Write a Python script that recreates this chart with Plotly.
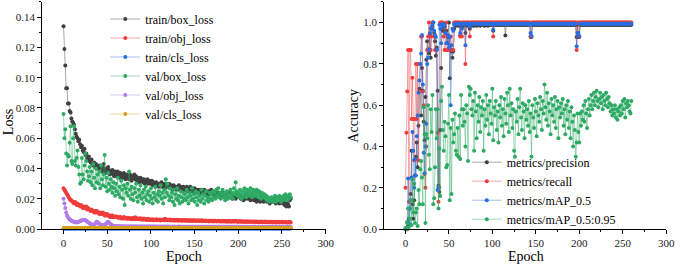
import plotly.graph_objects as go

epochs = list(range(261))

train_box = [
0.134,0.119,0.108,0.093,0.093,0.083,0.083,0.078,0.077,0.073,0.071,0.070,0.069,0.066,0.063,0.061,0.060,0.058,0.059,0.056,
0.054,0.055,0.052,0.051,0.053,0.049,0.050,0.047,0.046,0.048,0.045,0.044,0.046,0.043,0.042,0.044,0.041,0.043,0.040,0.042,
0.041,0.039,0.042,0.040,0.038,0.041,0.043,0.039,0.037,0.040,0.038,0.041,0.039,0.036,0.038,0.037,0.039,0.036,0.035,0.038,
0.037,0.035,0.038,0.036,0.034,0.037,0.035,0.036,0.034,0.037,0.035,0.033,0.036,0.034,0.035,0.033,0.036,0.034,0.032,0.035,
0.034,0.036,0.033,0.035,0.032,0.034,0.033,0.031,0.034,0.032,0.033,0.031,0.033,0.030,0.032,0.031,0.033,0.030,0.032,0.031,
0.030,0.032,0.029,0.031,0.030,0.028,0.031,0.029,0.030,0.028,0.030,0.029,0.031,0.028,0.030,0.029,0.027,0.030,0.028,0.029,
0.028,0.030,0.027,0.029,0.028,0.026,0.029,0.027,0.028,0.026,0.028,0.027,0.029,0.026,0.028,0.027,0.025,0.028,0.026,0.027,
0.026,0.028,0.025,0.027,0.026,0.028,0.025,0.027,0.026,0.024,0.027,0.025,0.026,0.024,0.026,0.025,0.023,0.026,0.024,0.025,
0.024,0.026,0.023,0.025,0.024,0.022,0.025,0.023,0.024,0.026,0.023,0.025,0.022,0.024,0.023,0.025,0.022,0.024,0.023,0.021,
0.024,0.022,0.023,0.021,0.024,0.022,0.023,0.021,0.022,0.024,0.021,0.023,0.022,0.020,0.023,0.021,0.022,0.020,0.022,0.021,
0.023,0.021,0.022,0.020,0.022,0.021,0.019,0.022,0.020,0.021,0.023,0.020,0.022,0.021,0.019,0.021,0.020,0.022,0.019,0.021,
0.020,0.018,0.021,0.019,0.020,0.018,0.021,0.019,0.020,0.018,0.020,0.019,0.021,0.018,0.020,0.019,0.017,0.020,0.018,0.019,
0.020,0.018,0.019,0.017,0.020,0.018,0.019,0.017,0.019,0.018,0.020,0.017,0.019,0.016,0.018,0.015,0.017,0.016,0.015,0.019,
0.020]

train_obj = [
0.027,0.026,0.025,0.024,0.023,0.022,0.021,0.020,0.019,0.019,0.018,0.018,0.017,0.018,0.017,0.016,0.017,0.016,0.016,0.015,
0.016,0.015,0.014,0.015,0.014,0.014,0.015,0.013,0.014,0.013,0.013,0.012,0.013,0.012,0.012,0.011,0.012,0.011,0.012,0.011,
0.011,0.010,0.011,0.010,0.010,0.011,0.010,0.009,0.010,0.009,0.010,0.009,0.009,0.008,0.009,0.008,0.009,0.008,0.008,0.008,
0.0085,0.008,0.0075,0.008,0.0075,0.008,0.007,0.0075,0.007,0.008,0.007,0.0075,0.007,0.0068,0.0075,0.007,0.0068,0.0072,0.0066,0.0074,
0.0072,0.0066,0.0078,0.0068,0.0072,0.0065,0.007,0.0066,0.0072,0.0064,0.0068,0.0062,0.007,0.0064,0.0066,0.006,0.0068,0.0062,0.0066,0.006,
0.0064,0.006,0.0066,0.0058,0.0062,0.006,0.0065,0.0058,0.0062,0.006,0.0064,0.0057,0.0062,0.006,0.0063,0.0058,0.0068,0.0061,0.0064,0.0058,
0.0062,0.0059,0.0063,0.0057,0.0061,0.0058,0.0062,0.0056,0.006,0.0058,0.0062,0.0056,0.006,0.0057,0.0061,0.0055,0.0059,0.0057,0.006,0.0055,
0.0059,0.0056,0.006,0.0054,0.0058,0.0056,0.0059,0.0054,0.0058,0.0055,0.0059,0.0053,0.0057,0.0055,0.0058,0.0053,0.0057,0.0054,0.0058,0.0052,
0.0056,0.0054,0.0057,0.0052,0.0056,0.0053,0.0056,0.0051,0.0055,0.0053,0.0056,0.0051,0.0055,0.0052,0.0055,0.005,0.0054,0.0052,0.0055,0.005,
0.0054,0.0051,0.0055,0.005,0.0053,0.0051,0.0054,0.0049,0.0053,0.005,0.0054,0.0049,0.0052,0.005,0.0053,0.0048,0.0052,0.0056,0.0051,0.0049,
0.0052,0.0049,0.0053,0.0048,0.0051,0.0049,0.0052,0.0047,0.0051,0.0049,0.0052,0.0047,0.005,0.0048,0.0051,0.0047,0.005,0.0048,0.0051,0.0046,
0.005,0.0047,0.0051,0.0046,0.0049,0.0047,0.005,0.0045,0.0049,0.0047,0.005,0.0045,0.0048,0.0046,0.0049,0.0045,0.0048,0.0046,0.0049,0.0044,
0.0048,0.0046,0.0049,0.0044,0.0047,0.0045,0.0048,0.0044,0.0047,0.0045,0.0048,0.0043,0.0047,0.0045,0.0048,0.0043,0.0046,0.0044,0.0047,0.0043,
0.0046]

train_cls = [
4e-4,4e-4,4e-4,4e-4,4e-4,4e-4,4e-4,4e-4,4e-4,4e-4,4e-4,4e-4,4e-4,4e-4,4e-4,4e-4,4e-4,4e-4,4e-4,4e-4,
4e-4,4e-4,4e-4,4e-4,4e-4,4e-4,4e-4,4e-4,4e-4,4e-4,4e-4,4e-4,4e-4,4e-4,4e-4,4e-4,4e-4,4e-4,4e-4,4e-4,
4e-4,4e-4,4e-4,4e-4,4e-4,4e-4,4e-4,4e-4,4e-4,4e-4,4e-4,4e-4,4e-4,4e-4,4e-4,4e-4,4e-4,4e-4,4e-4,4e-4,
4e-4,4e-4,4e-4,4e-4,4e-4,4e-4,4e-4,4e-4,4e-4,4e-4,4e-4,4e-4,4e-4,4e-4,4e-4,4e-4,4e-4,4e-4,4e-4,4e-4,
4e-4,4e-4,4e-4,4e-4,4e-4,4e-4,4e-4,4e-4,4e-4,4e-4,4e-4,4e-4,4e-4,4e-4,4e-4,4e-4,4e-4,4e-4,4e-4,4e-4,
4e-4,4e-4,4e-4,4e-4,4e-4,4e-4,4e-4,4e-4,4e-4,4e-4,4e-4,4e-4,4e-4,4e-4,4e-4,4e-4,4e-4,4e-4,4e-4,4e-4,
4e-4,4e-4,4e-4,4e-4,4e-4,4e-4,4e-4,4e-4,4e-4,4e-4,4e-4,4e-4,4e-4,4e-4,4e-4,4e-4,4e-4,4e-4,4e-4,4e-4,
4e-4,4e-4,4e-4,4e-4,4e-4,4e-4,4e-4,4e-4,4e-4,4e-4,4e-4,4e-4,4e-4,4e-4,4e-4,4e-4,4e-4,4e-4,4e-4,4e-4,
4e-4,4e-4,4e-4,4e-4,4e-4,4e-4,4e-4,4e-4,4e-4,4e-4,4e-4,4e-4,4e-4,4e-4,4e-4,4e-4,4e-4,4e-4,4e-4,4e-4,
4e-4,4e-4,4e-4,4e-4,4e-4,4e-4,4e-4,4e-4,4e-4,4e-4,4e-4,4e-4,4e-4,4e-4,4e-4,4e-4,4e-4,4e-4,4e-4,4e-4,
4e-4,4e-4,4e-4,4e-4,4e-4,4e-4,4e-4,4e-4,4e-4,4e-4,4e-4,4e-4,4e-4,4e-4,4e-4,4e-4,4e-4,4e-4,4e-4,4e-4,
4e-4,4e-4,4e-4,4e-4,4e-4,4e-4,4e-4,4e-4,4e-4,4e-4,4e-4,4e-4,4e-4,4e-4,4e-4,4e-4,4e-4,4e-4,4e-4,4e-4,
4e-4,4e-4,4e-4,4e-4,4e-4,4e-4,4e-4,4e-4,4e-4,4e-4,4e-4,4e-4,4e-4,4e-4,4e-4,4e-4,4e-4,4e-4,4e-4,4e-4,
4e-4]

val_box = [
0.076,0.060,0.066,0.050,0.042,0.049,0.048,0.057,0.068,0.045,0.043,0.060,0.068,0.045,0.042,0.047,0.052,0.041,0.036,0.030,
0.031,0.047,0.036,0.033,0.042,0.050,0.045,0.038,0.032,0.035,0.041,0.031,0.038,0.029,0.043,0.034,0.027,0.040,0.031,0.036,
0.030,0.038,0.027,0.042,0.033,0.029,0.036,0.049,0.028,0.034,0.025,0.037,0.030,0.026,0.033,0.028,0.024,0.031,0.027,0.022,
0.030,0.025,0.034,0.023,0.028,0.021,0.032,0.026,0.020,0.029,0.016,0.027,0.024,0.030,0.022,0.038,0.026,0.020,0.028,0.023,
0.019,0.027,0.024,0.030,0.021,0.018,0.026,0.022,0.029,0.020,0.024,0.017,0.026,0.021,0.028,0.019,0.023,0.025,0.018,0.022,
0.027,0.020,0.017,0.024,0.021,0.028,0.019,0.023,0.018,0.025,0.022,0.029,0.020,0.024,0.017,0.026,0.021,0.033,0.024,0.030,
0.022,0.019,0.027,0.021,0.024,0.018,0.026,0.016,0.023,0.020,0.027,0.019,0.022,0.017,0.025,0.021,0.018,0.024,0.020,0.023,
0.019,0.026,0.021,0.017,0.024,0.022,0.019,0.027,0.020,0.023,0.018,0.025,0.021,0.016,0.024,0.019,0.022,0.018,0.026,0.020,
0.023,0.017,0.022,0.025,0.019,0.021,0.018,0.024,0.020,0.023,0.019,0.025,0.021,0.024,0.020,0.026,0.022,0.027,0.021,0.024,
0.020,0.023,0.026,0.021,0.024,0.019,0.022,0.025,0.020,0.023,0.021,0.026,0.022,0.024,0.020,0.027,0.023,0.031,0.025,0.022,
0.024,0.021,0.026,0.023,0.020,0.025,0.022,0.027,0.024,0.021,0.026,0.023,0.025,0.022,0.027,0.024,0.021,0.026,0.023,0.025,
0.022,0.026,0.024,0.021,0.025,0.023,0.020,0.024,0.022,0.021,0.023,0.020,0.022,0.019,0.021,0.018,0.020,0.019,0.021,0.018,
0.020,0.019,0.022,0.018,0.021,0.020,0.019,0.022,0.020,0.018,0.021,0.019,0.022,0.020,0.023,0.019,0.021,0.022,0.020,0.023,
0.021]

val_obj = [
0.020,0.017,0.014,0.011,0.009,0.008,0.007,0.0065,0.006,0.0055,0.0052,0.005,0.0048,0.0046,0.0045,0.0044,0.0045,0.0047,0.005,0.0052,
0.0055,0.0058,0.006,0.0061,0.006,0.0058,0.0055,0.005,0.0046,0.0042,0.0038,0.0034,0.0031,0.0029,0.0028,0.003,0.0034,0.0042,0.0048,0.0046,
0.004,0.0034,0.003,0.0028,0.0027,0.0026,0.0026,0.0028,0.0032,0.0038,0.0045,0.0048,0.0044,0.0038,0.0032,0.0027,0.0024,0.0022,0.0021,0.002,
0.002,0.0019,0.0019,0.0019,0.0018,0.0019,0.0018,0.0018,0.0019,0.0018,0.0018,0.0018,0.0017,0.0018,0.0018,0.0017,0.0018,0.0017,0.0018,0.0017,
0.0017,0.0018,0.0017,0.0017,0.0018,0.0017,0.0016,0.0017,0.0018,0.0017,0.0017,0.0016,0.0017,0.0017,0.0016,0.0017,0.0018,0.0017,0.0016,0.0017,
0.0017,0.0016,0.0017,0.0016,0.0017,0.0017,0.0016,0.0017,0.0016,0.0016,0.0017,0.0016,0.0017,0.0016,0.0016,0.0017,0.0016,0.0016,0.0017,0.0016,
0.0016,0.0017,0.0016,0.0016,0.0015,0.0016,0.0017,0.0016,0.0016,0.0015,0.0016,0.0016,0.0017,0.0016,0.0015,0.0016,0.0016,0.0015,0.0016,0.0016,
0.0016,0.0015,0.0016,0.0016,0.0015,0.0016,0.0015,0.0016,0.0016,0.0015,0.0016,0.0015,0.0016,0.0015,0.0016,0.0016,0.0015,0.0016,0.0015,0.0016,
0.0015,0.0016,0.0016,0.0015,0.0016,0.0015,0.0015,0.0016,0.0015,0.0016,0.0015,0.0016,0.0015,0.0015,0.0016,0.0015,0.0016,0.0015,0.0015,0.0016,
0.0015,0.0015,0.0016,0.0015,0.0015,0.0016,0.0015,0.0015,0.0016,0.0015,0.0015,0.0015,0.0016,0.0015,0.0015,0.0016,0.0015,0.0015,0.0015,0.0016,
0.0015,0.0015,0.0015,0.0014,0.0015,0.0015,0.0016,0.0015,0.0014,0.0015,0.0015,0.0015,0.0014,0.0015,0.0015,0.0014,0.0015,0.0015,0.0014,0.0015,
0.0015,0.0014,0.0015,0.0015,0.0014,0.0015,0.0014,0.0015,0.0015,0.0014,0.0015,0.0014,0.0015,0.0014,0.0015,0.0015,0.0014,0.0015,0.0014,0.0015,
0.0014,0.0015,0.0014,0.0015,0.0014,0.0015,0.0014,0.0014,0.0015,0.0014,0.0015,0.0014,0.0014,0.0015,0.0014,0.0014,0.0015,0.0014,0.0014,0.0015,
0.0014]

val_cls = [
7e-4,7e-4,7e-4,7e-4,7e-4,7e-4,7e-4,7e-4,7e-4,7e-4,7e-4,7e-4,7e-4,7e-4,7e-4,7e-4,7e-4,7e-4,7e-4,7e-4,
7e-4,7e-4,7e-4,7e-4,7e-4,7e-4,7e-4,7e-4,7e-4,7e-4,7e-4,7e-4,7e-4,7e-4,7e-4,7e-4,7e-4,7e-4,7e-4,7e-4,
7e-4,7e-4,7e-4,7e-4,7e-4,7e-4,7e-4,7e-4,7e-4,7e-4,7e-4,7e-4,7e-4,7e-4,7e-4,7e-4,7e-4,7e-4,7e-4,7e-4,
7e-4,7e-4,7e-4,7e-4,7e-4,7e-4,7e-4,7e-4,7e-4,7e-4,7e-4,7e-4,7e-4,7e-4,7e-4,7e-4,7e-4,7e-4,7e-4,7e-4,
7e-4,7e-4,7e-4,7e-4,7e-4,7e-4,7e-4,7e-4,7e-4,7e-4,7e-4,7e-4,7e-4,7e-4,7e-4,7e-4,7e-4,7e-4,7e-4,7e-4,
7e-4,7e-4,7e-4,7e-4,7e-4,7e-4,7e-4,7e-4,7e-4,7e-4,7e-4,7e-4,7e-4,7e-4,7e-4,7e-4,7e-4,7e-4,7e-4,7e-4,
7e-4,7e-4,7e-4,7e-4,7e-4,7e-4,7e-4,7e-4,7e-4,7e-4,7e-4,7e-4,7e-4,7e-4,7e-4,7e-4,7e-4,7e-4,7e-4,7e-4,
7e-4,7e-4,7e-4,7e-4,7e-4,7e-4,7e-4,7e-4,7e-4,7e-4,7e-4,7e-4,7e-4,7e-4,7e-4,7e-4,7e-4,7e-4,7e-4,7e-4,
7e-4,7e-4,7e-4,7e-4,7e-4,7e-4,7e-4,7e-4,7e-4,7e-4,7e-4,7e-4,7e-4,7e-4,7e-4,7e-4,7e-4,7e-4,7e-4,7e-4,
7e-4,7e-4,7e-4,7e-4,7e-4,7e-4,7e-4,7e-4,7e-4,7e-4,7e-4,7e-4,7e-4,7e-4,7e-4,7e-4,7e-4,7e-4,7e-4,7e-4,
7e-4,7e-4,7e-4,7e-4,7e-4,7e-4,7e-4,7e-4,7e-4,7e-4,7e-4,7e-4,7e-4,7e-4,7e-4,7e-4,7e-4,7e-4,7e-4,7e-4,
7e-4,7e-4,7e-4,7e-4,7e-4,7e-4,7e-4,7e-4,7e-4,7e-4,7e-4,7e-4,7e-4,7e-4,7e-4,7e-4,7e-4,7e-4,7e-4,7e-4,
7e-4,7e-4,7e-4,7e-4,7e-4,7e-4,7e-4,7e-4,7e-4,7e-4,7e-4,7e-4,7e-4,7e-4,7e-4,7e-4,7e-4,7e-4,7e-4,7e-4,
7e-4]

precision = [
0.0,0.0,0.0,0.02,0.05,0.10,0.17,0.38,0.12,0.05,0.14,0.26,0.35,0.42,0.30,0.50,0.68,0.67,0.55,0.78,
0.67,0.52,0.43,0.64,0.82,0.91,0.87,0.85,0.94,0.83,0.97,0.98,1.0,0.95,0.91,0.84,0.88,0.67,0.21,0.18,
0.48,0.78,0.97,0.96,0.99,0.98,0.95,0.96,0.90,0.93,1.0,0.73,0.87,0.86,0.83,0.86,0.97,0.99,0.985,0.99,
0.99,0.985,0.99,0.937,0.99,0.98,0.985,0.99,0.99,0.95,0.99,0.985,0.99,0.99,0.97,0.99,0.985,0.99,0.99,0.985,
0.99,0.99,0.985,0.99,0.99,0.99,0.985,0.99,0.99,0.99,0.99,0.985,0.99,0.99,0.99,0.985,0.99,0.99,0.99,0.99,
0.99,0.96,0.99,0.99,0.99,0.99,0.99,0.99,0.99,0.99,0.99,0.99,0.99,0.99,0.99,0.937,0.99,0.99,0.99,0.99,
0.99,0.99,0.99,0.99,0.99,0.99,0.99,0.99,0.99,0.99,0.99,0.99,0.99,0.99,0.99,0.99,0.99,0.99,0.99,0.99,
0.99,0.99,0.99,0.99,0.93,0.93,0.99,0.99,0.99,0.99,0.99,0.99,0.99,0.99,0.99,0.99,0.99,0.99,0.99,0.99,
0.99,0.99,0.99,0.99,0.99,0.99,0.99,0.99,0.99,0.99,0.99,0.99,0.99,0.99,0.99,0.99,0.99,0.99,0.99,0.99,
0.99,0.99,0.99,0.99,0.99,0.99,0.99,0.99,0.99,0.99,0.99,0.99,0.99,0.99,0.99,0.99,0.99,0.93,0.99,0.93,
0.93,0.99,0.99,0.99,0.99,0.99,0.99,0.99,0.99,0.99,0.99,0.99,0.99,0.99,0.99,0.99,0.99,0.99,0.99,0.99,
0.99,0.99,0.99,0.99,0.99,0.99,0.99,0.99,0.99,0.99,0.99,0.99,0.99,0.99,0.99,0.99,0.99,0.99,0.99,0.99,
0.99,0.99,0.99,0.99,0.99,0.99,0.99,0.99,0.99,0.99,0.99,0.99,0.99,0.99,0.99,0.99,0.99,0.99,0.99,0.99,
0.99]

recall = [
0.2,0.467,0.667,0.867,0.133,0.867,0.867,0.533,0.733,0.533,0.333,0.533,0.8,0.533,0.8,0.333,0.667,0.8,0.933,0.933,
0.667,0.6,0.267,0.2,0.4,0.867,0.933,1.0,0.867,0.867,0.933,1.0,1.0,0.933,0.867,0.867,0.867,0.467,0.133,0.2,
1.0,1.0,1.0,1.0,0.933,0.867,0.867,1.0,0.867,0.867,0.933,0.867,0.933,0.867,0.867,0.867,1.0,1.0,1.0,1.0,
1.0,1.0,1.0,0.933,1.0,0.933,1.0,1.0,1.0,0.8,1.0,1.0,1.0,1.0,0.933,1.0,1.0,1.0,1.0,1.0,
1.0,1.0,1.0,1.0,1.0,1.0,1.0,1.0,1.0,1.0,1.0,1.0,1.0,1.0,1.0,1.0,1.0,1.0,1.0,1.0,
1.0,0.933,1.0,1.0,1.0,1.0,1.0,1.0,1.0,1.0,1.0,1.0,1.0,1.0,1.0,1.0,1.0,1.0,1.0,1.0,
1.0,1.0,1.0,1.0,1.0,1.0,1.0,1.0,1.0,1.0,1.0,1.0,1.0,1.0,1.0,1.0,1.0,1.0,1.0,1.0,
1.0,1.0,1.0,1.0,0.933,0.933,1.0,1.0,1.0,1.0,1.0,1.0,1.0,1.0,1.0,1.0,1.0,1.0,1.0,1.0,
1.0,1.0,1.0,1.0,1.0,1.0,1.0,1.0,1.0,1.0,1.0,1.0,1.0,1.0,1.0,1.0,1.0,1.0,1.0,1.0,
1.0,1.0,1.0,1.0,1.0,1.0,1.0,1.0,1.0,1.0,1.0,1.0,1.0,1.0,1.0,1.0,1.0,0.867,1.0,1.0,
0.933,1.0,1.0,1.0,1.0,1.0,1.0,1.0,1.0,1.0,1.0,1.0,1.0,1.0,1.0,1.0,1.0,1.0,1.0,1.0,
1.0,1.0,1.0,1.0,1.0,1.0,1.0,1.0,1.0,1.0,1.0,1.0,1.0,1.0,1.0,1.0,1.0,1.0,1.0,1.0,
1.0,1.0,1.0,1.0,1.0,1.0,1.0,1.0,1.0,1.0,1.0,1.0,1.0,1.0,1.0,1.0,1.0,1.0,1.0,1.0,
1.0]

map50 = [
0.0,0.005,0.035,0.245,0.03,0.10,0.14,0.25,0.47,0.38,0.20,0.34,0.26,0.45,0.55,0.66,0.72,0.80,0.85,0.94,
0.70,0.37,0.27,0.40,0.51,0.80,0.83,0.87,0.95,0.97,0.98,0.99,1.0,0.96,0.94,0.93,0.87,0.19,0.20,0.99,
0.97,0.90,0.99,0.98,0.995,0.99,0.95,0.90,0.90,0.94,0.88,0.93,0.60,0.89,0.97,0.96,0.99,0.995,0.995,0.995,
0.995,0.995,0.995,0.95,0.995,0.97,0.995,0.995,0.995,0.89,0.995,0.995,0.995,0.995,0.98,0.995,0.995,0.995,0.995,0.995,
0.995,0.995,0.995,0.995,0.995,0.995,0.995,0.995,0.995,0.995,0.995,0.995,0.995,0.995,0.995,0.995,0.995,0.995,0.995,0.995,
0.995,0.965,0.995,0.995,0.995,0.995,0.995,0.995,0.995,0.995,0.995,0.995,0.995,0.995,0.995,0.995,0.995,0.995,0.995,0.995,
0.995,0.995,0.995,0.995,0.995,0.995,0.995,0.995,0.995,0.995,0.995,0.995,0.995,0.995,0.995,0.995,0.995,0.995,0.995,0.995,
0.995,0.995,0.995,0.99,0.95,0.935,0.995,0.995,0.995,0.995,0.995,0.995,0.995,0.995,0.995,0.995,0.995,0.995,0.995,0.995,
0.995,0.995,0.995,0.995,0.995,0.995,0.995,0.995,0.995,0.995,0.995,0.995,0.995,0.995,0.995,0.995,0.995,0.995,0.995,0.995,
0.995,0.995,0.995,0.995,0.995,0.995,0.995,0.995,0.995,0.995,0.995,0.995,0.995,0.995,0.995,0.995,0.995,0.885,0.95,0.95,
0.935,0.995,0.995,0.995,0.995,0.995,0.995,0.995,0.995,0.995,0.995,0.995,0.995,0.995,0.995,0.995,0.995,0.995,0.995,0.995,
0.995,0.995,0.995,0.995,0.995,0.995,0.995,0.995,0.995,0.995,0.995,0.995,0.995,0.995,0.995,0.995,0.995,0.995,0.995,0.995,
0.995,0.995,0.995,0.995,0.995,0.995,0.995,0.995,0.995,0.995,0.995,0.995,0.995,0.995,0.995,0.995,0.995,0.995,0.995,0.995,
0.995]

map5095 = [
0.005,0.0,0.03,0.10,0.01,0.05,0.14,0.02,0.24,0.08,0.22,0.03,0.08,0.10,0.015,0.19,0.12,0.29,0.33,0.25,
0.12,0.59,0.46,0.03,0.46,0.44,0.60,0.36,0.29,0.58,0.47,0.65,0.12,0.15,0.30,0.58,0.44,0.58,0.10,0.39,
0.16,0.62,0.69,0.48,0.38,0.52,0.45,0.30,0.31,0.51,0.65,0.14,0.49,0.17,0.53,0.42,0.46,0.56,0.38,0.36,
0.49,0.35,0.55,0.34,0.65,0.58,0.50,0.58,0.52,0.40,0.60,0.56,0.33,0.69,0.65,0.68,0.58,0.55,0.62,0.38,
0.66,0.57,0.44,0.60,0.52,0.64,0.47,0.59,0.55,0.62,0.38,0.58,0.50,0.65,0.53,0.60,0.46,0.62,0.56,0.51,
0.68,0.43,0.59,0.55,0.62,0.48,0.57,0.42,0.60,0.54,0.64,0.50,0.58,0.45,0.63,0.56,0.51,0.66,0.60,0.47,
0.68,0.55,0.61,0.49,0.58,0.38,0.35,0.57,0.52,0.63,0.46,0.59,0.68,0.54,0.48,0.61,0.57,0.44,0.60,0.53,
0.58,0.50,0.62,0.47,0.56,0.35,0.60,0.54,0.49,0.63,0.57,0.45,0.61,0.55,0.52,0.64,0.58,0.48,0.62,0.56,
0.70,0.59,0.53,0.66,0.50,0.61,0.57,0.46,0.63,0.55,0.60,0.52,0.64,0.49,0.58,0.62,0.44,0.59,0.54,0.61,
0.56,0.63,0.50,0.58,0.46,0.60,0.53,0.62,0.49,0.57,0.44,0.59,0.52,0.40,0.55,0.48,0.35,0.42,0.56,0.47,
0.42,0.56,0.50,0.57,0.53,0.60,0.52,0.62,0.56,0.49,0.58,0.63,0.55,0.60,0.65,0.58,0.62,0.66,0.60,0.64,
0.67,0.62,0.59,0.63,0.66,0.61,0.64,0.58,0.65,0.62,0.60,0.66,0.63,0.59,0.64,0.61,0.57,0.60,0.55,0.58,
0.56,0.60,0.54,0.58,0.53,0.57,0.59,0.55,0.60,0.56,0.62,0.58,0.63,0.54,0.61,0.59,0.62,0.60,0.57,0.56,
0.62]

loss_series = [
    ("train/box_loss", train_box, (64, 64, 64)),
    ("train/obj_loss", train_obj, (240, 60, 60)),
    ("train/cls_loss", train_cls, (40, 110, 225)),
    ("val/box_loss", val_box, (46, 170, 100)),
    ("val/obj_loss", val_obj, (176, 124, 232)),
    ("val/cls_loss", val_cls, (214, 160, 30)),
]
acc_series = [
    ("metrics/precision", precision, (64, 64, 64)),
    ("metrics/recall", recall, (240, 60, 60)),
    ("metrics/mAP_0.5", map50, (40, 110, 225)),
    ("metrics/mAP_0.5:0.95", map5095, (46, 170, 100)),
]

SERIF = "Liberation Serif"
W, H = 685, 272

fig = go.Figure()

def add(name, ys, rgb, xa, ya, leg):
    r, g, b = rgb
    fig.add_trace(go.Scatter(
        x=epochs, y=ys, name=name, mode="lines+markers",
        line=dict(color=f"rgba({r},{g},{b},0.45)", width=1),
        marker=dict(color=f"rgb({r},{g},{b})", size=4, line=dict(width=0)),
        xaxis=xa, yaxis=ya, legend=leg, cliponaxis=False))

for n, ys, c in loss_series:
    add(n, ys, c, "x", "y", "legend")
for n, ys, c in acc_series:
    add(n, ys, c, "x2", "y2", "legend2")

def axis(**kw):
    d = dict(showline=True, linecolor="black", linewidth=1, ticks="outside",
             ticklen=4, tickcolor="black", tickwidth=1, showgrid=False, zeroline=False,
             tickfont=dict(family=SERIF, size=11, color="#222"))
    d.update(kw)
    return d

ytop = 1 - 2 / H
ybot = 1 - 234.3 / H

def label(text, x, y, angle=0):
    return dict(text=text, x=x / W, y=1 - y / H, xref="paper", yref="paper",
                xanchor="center", yanchor="middle", textangle=angle, showarrow=False,
                font=dict(family=SERIF, size=14, color="black"))

fig.update_layout(
    width=W, height=H, margin=dict(l=0, r=0, t=0, b=0),
    paper_bgcolor="white", plot_bgcolor="white",
    xaxis=axis(domain=[42.7 / W, 330 / W], range=[-24.5, 300], dtick=50, anchor="y",
               minor=dict(ticks="outside", ticklen=2, tickcolor="black", dtick=25)),
    yaxis=axis(domain=[ybot, ytop], range=[0, 0.15], dtick=0.02, tickformat=".2f", anchor="x",
               minor=dict(ticks="outside", ticklen=2, tickcolor="black", dtick=0.01)),
    xaxis2=axis(domain=[389.3 / W, 675 / W], range=[-24.5, 300], dtick=50, anchor="y2",
                minor=dict(ticks="outside", ticklen=2, tickcolor="black", dtick=25)),
    yaxis2=axis(domain=[ybot, ytop], range=[0, 1.1], dtick=0.2, tickformat=".1f", anchor="x2",
                minor=dict(ticks="outside", ticklen=2, tickcolor="black", dtick=0.1)),
    legend=dict(x=106.7 / W, y=1 - 68 / H, xanchor="left", yanchor="middle",
                bgcolor="rgba(0,0,0,0)", font=dict(family=SERIF, size=12, color="black")),
    legend2=dict(x=473 / W, y=1 - 195 / H, xanchor="left", yanchor="middle",
                 bgcolor="rgba(0,0,0,0)", font=dict(family=SERIF, size=12, color="black")),
    annotations=[
        label("Loss", 8, 125, -90),
        label("Accuracy", 358, 118, -90),
        label("Epoch", 186, 262),
        label("Epoch", 532.5, 262),
    ],
)

fig.write_html("out.html", config={"displayModeBar": False},
               post_script="document.body.style.margin='0';document.body.style.overflow='hidden';")
